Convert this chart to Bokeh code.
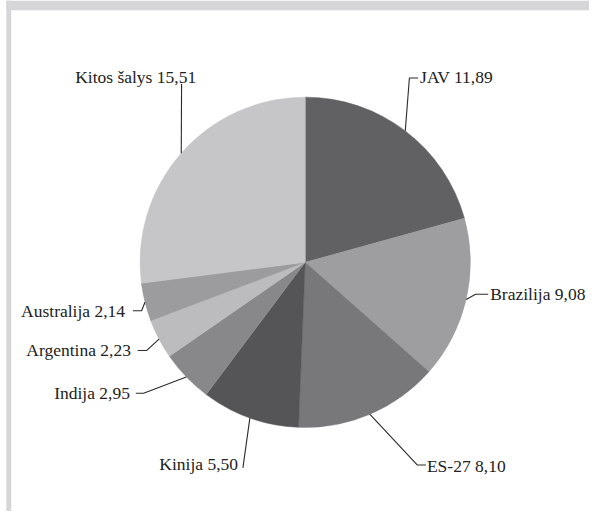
import math
from bokeh.plotting import figure
from bokeh.models import Range1d, ColumnDataSource
from bokeh.core.properties import value
from bokeh.embed import file_html
from bokeh.resources import INLINE

# ---- data ----
countries = ["JAV", "Brazilija", "ES-27", "Kinija", "Indija", "Argentina", "Australija", "Kitos šalys"]
values = [11.89, 9.08, 8.10, 5.50, 2.95, 2.23, 2.14, 15.51]
value_labels = ["11,89", "9,08", "8,10", "5,50", "2,95", "2,23", "2,14", "15,51"]

# ---- styles ----
colors = ["#616163", "#9e9ea0", "#78787a", "#555557", "#88888a", "#bcbcbe", "#9c9c9e", "#c6c6c8"]

W, H = 589, 511
REF_W, REF_H = 605, 527
SX, SY = W / REF_W, H / REF_H


def X(px):
    return px * SX


def Y(py):
    return H - py * SY


# layout (reference pixel coords): pie centre/radius, leader elbows, text anchors
CX, CY, R = 313, 270, 170
elbow1 = [(420, 80), (488, 303), (428, 479), (249, 482), (147, 405), (150, 361), (145, 320), (186, 86)]
elbow2 = [(429, 80), (501, 303), (437, 479), None, (139, 405), (141, 361), (136, 320), None]
text_pos = [(431, 79), (503, 303), (438, 480), (244, 478), (133, 405), (134, 360), (128, 320), (201, 79)]
text_align = ["left", "left", "left", "right", "right", "right", "right", "right"]

p = figure(width=W, height=H, output_backend="svg", toolbar_location=None,
           x_range=Range1d(0, W), y_range=Range1d(0, H), min_border=0)
p.axis.visible = False
p.grid.visible = False
p.outline_line_color = None
p.background_fill_color = "white"
p.border_fill_color = "white"

# frame bars (top + left)
p.quad(left=[X(6), X(6)], right=[W, X(11)], top=[H, H], bottom=[Y(10), 0],
       fill_color="#d6d6d8", line_color=None)

total = sum(values)
starts, ends, mids = [], [], []
cum = 0.0
for v in values:
    a0 = math.pi / 2 - cum / total * 2 * math.pi
    cum += v
    a1 = math.pi / 2 - cum / total * 2 * math.pi
    starts.append(a0)
    ends.append(a1)
    mids.append((a0 + a1) / 2)

RR = R * (SX + SY) / 2
src = ColumnDataSource(dict(start=starts, end=ends, color=colors))
p.wedge(x=X(CX), y=Y(CY), radius=RR, start_angle="start", end_angle="end",
        direction="clock", fill_color="color", line_color="color", line_width=0.5, source=src)

# leader lines
xs, ys = [], []
for i, m in enumerate(mids):
    ex = X(CX) + RR * math.cos(m)
    ey = Y(CY) + RR * math.sin(m)
    lx = [ex, X(elbow1[i][0])]
    ly = [ey, Y(elbow1[i][1])]
    if elbow2[i] is not None:
        lx.append(X(elbow2[i][0]))
        ly.append(Y(elbow2[i][1]))
    xs.append(lx)
    ys.append(ly)
p.multi_line(xs=xs, ys=ys, line_color="#2b2b2b", line_width=1.1)

labels = [f"{c} {v}" for c, v in zip(countries, value_labels)]
for i, lab in enumerate(labels):
    p.text(x=[X(text_pos[i][0])], y=[Y(text_pos[i][1])], text=[lab],
           text_font=value("Liberation Serif"), text_font_size="17.5px",
           text_color="#222222", text_align=text_align[i], text_baseline="alphabetic")

open("out.html", "w").write(file_html(p, INLINE))
